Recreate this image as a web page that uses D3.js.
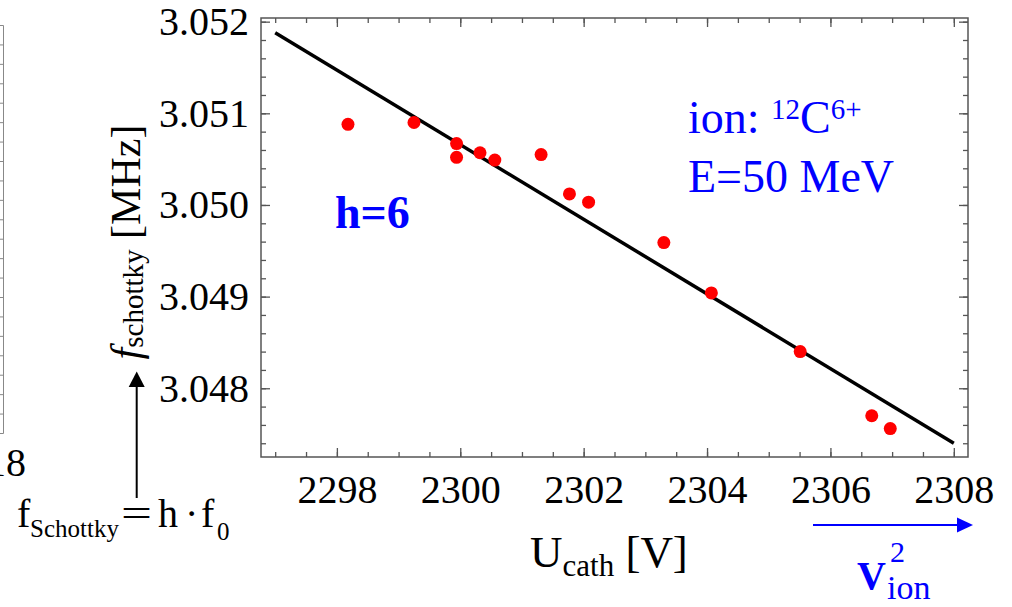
<!DOCTYPE html>
<html>
<head>
<meta charset="utf-8">
<style>
  body { margin: 0; background: white; }
  svg { display: block; font-family: 'Liberation Serif', 'Times New Roman', serif; }
  .frame line { stroke: #555; stroke-width: 1.3; }
</style>
</head>
<body>
<svg width="1012" height="607"></svg>
<script src="https://d3js.org/d3.v7.min.js"></script>
<script>
// measured points: cathode voltage [V] and Schottky frequency [MHz]
let uCath = [2298.18, 2299.25, 2299.94, 2299.94, 2300.32, 2300.56, 2301.31, 2301.77, 2302.08, 2303.30, 2304.07, 2305.51, 2306.67, 2306.97]
let fSchottky = [3.05088, 3.05090, 3.05067, 3.05052, 3.05057, 3.05049, 3.05055, 3.05012, 3.05003, 3.04959, 3.04904, 3.04840, 3.04770, 3.04756]

// linear fit, end points
let fitU = [2297, 2308]
let fitF = [3.05188, 3.04740]

let xTicks = [2298, 2300, 2302, 2304, 2306, 2308]
let yTicks = [3.048, 3.049, 3.050, 3.051, 3.052]

let serif = "'Liberation Serif', 'Times New Roman', serif"
let svg = d3.select("svg")

let x = d3.scaleLinear().domain([2296.77, 2308.23]).range([261, 968])
let y = d3.scaleLinear().domain([3.04725, 3.05204]).range([457, 18])

let xMinor = d3.range(0, 23).map(i => 2297 + i * 0.5)
let yMinor = d3.range(0, 24).map(i => 3.0474 + i * 0.0002)

// ticks on all four sides (pointing inwards)
function ticks(axis, pos, values, size) {
    svg.append("g").attr("class", "frame").attr("transform", pos)
        .call(axis.tickValues(values).tickSize(-size).tickFormat(""))
        .call(g => g.select(".domain").remove())
}
ticks(d3.axisBottom(x), "translate(0,457)", xMinor, 5)
ticks(d3.axisTop(x), "translate(0,18)", xMinor, 5)
ticks(d3.axisLeft(y), "translate(261,0)", yMinor, 5)
ticks(d3.axisRight(y), "translate(968,0)", yMinor, 5)
ticks(d3.axisTop(x), "translate(0,18)", xTicks, 9)
ticks(d3.axisRight(y), "translate(968,0)", yTicks, 9)

// major ticks with labels
let xAxis = svg.append("g").attr("class", "frame").attr("transform", "translate(0,457)")
    .call(d3.axisBottom(x).tickValues(xTicks).tickSize(-9).tickPadding(18).tickFormat(d3.format("d")))
xAxis.select(".domain").remove()
xAxis.attr("font-size", 40).attr("font-family", serif)
xAxis.selectAll("text").attr("fill", "black")

let yAxis = svg.append("g").attr("class", "frame").attr("transform", "translate(261,0)")
    .call(d3.axisLeft(y).tickValues(yTicks).tickSize(-9).tickPadding(12).tickFormat(d3.format(".3f")))
yAxis.select(".domain").remove()
yAxis.attr("font-size", 40).attr("font-family", serif)
yAxis.selectAll("text").attr("fill", "black")

svg.append("rect")
    .attr("x", x.range()[0]).attr("y", y.range()[1])
    .attr("width", x.range()[1] - x.range()[0])
    .attr("height", y.range()[0] - y.range()[1])
    .attr("fill", "none").attr("stroke", "#555").attr("stroke-width", 1.5)

// fit line
svg.append("path")
    .datum(fitU.map((u, i) => [u, fitF[i]]))
    .attr("d", d3.line().x(d => x(d[0])).y(d => y(d[1])))
    .attr("stroke", "black").attr("stroke-width", 3.5).attr("fill", "none")

// data points
svg.append("g").selectAll("circle")
    .data(uCath.map((u, i) => [u, fSchottky[i]]))
    .join("circle")
    .attr("cx", d => x(d[0])).attr("cy", d => y(d[1]))
    .attr("r", 6.5).attr("fill", "#ff0000")

// axis titles
let xt = svg.append("text").attr("x", 530).attr("y", 567).attr("font-size", 45)
xt.append("tspan").text("U")
xt.append("tspan").attr("font-size", 31).attr("dy", 9).text("cath")
xt.append("tspan").attr("dy", -9).text(" [V]")

let yt = svg.append("text").attr("transform", "translate(140,242) rotate(-90)")
    .attr("text-anchor", "middle").attr("font-size", 42)
yt.append("tspan").attr("font-style", "italic").text("f")
yt.append("tspan").attr("font-size", 29).attr("dy", 3).text("schottky")
yt.append("tspan").attr("dy", -3).text(" [MHz]")

// annotations
svg.append("text").attr("x", 335).attr("y", 228).attr("font-size", 46)
    .attr("font-weight", "bold").attr("fill", "#0000ff").text("h=6")

let ion = svg.append("text").attr("x", 688).attr("y", 133).attr("font-size", 46).attr("fill", "#0000ff")
ion.append("tspan").text("ion: ")
ion.append("tspan").attr("font-size", 29).attr("dy", -14).text("12")
ion.append("tspan").attr("dy", 14).text("C")
ion.append("tspan").attr("font-size", 29).attr("dy", -14).text("6+")
svg.append("text").attr("x", 688).attr("y", 192).attr("font-size", 46).attr("fill", "#0000ff").text("E=50 MeV")

// f_Schottky = h * f0 with arrow
svg.append("text").attr("x", 17).attr("y", 527).attr("font-size", 40).text("f")
svg.append("text").attr("x", 30).attr("y", 537).attr("font-size", 25).text("Schottky")
svg.append("text").attr("x", 121).attr("y", 527).attr("font-size", 40)
    .attr("textLength", 31).attr("lengthAdjust", "spacingAndGlyphs").text("=")
svg.append("text").attr("x", 158).attr("y", 527).attr("font-size", 40).text("h")
svg.append("text").attr("x", 185).attr("y", 527).attr("font-size", 40).text("·")
svg.append("text").attr("x", 201).attr("y", 527).attr("font-size", 40).text("f")
svg.append("text").attr("x", 217).attr("y", 540).attr("font-size", 25).text("0")

svg.append("line").attr("x1", 136.7).attr("x2", 136.7).attr("y1", 498).attr("y2", 385)
    .attr("stroke", "black").attr("stroke-width", 2)
svg.append("path").attr("d", "M136.7,371.5 L128.7,387 L144.7,387 Z").attr("fill", "black")

// v_ion^2 arrow
svg.append("line").attr("x1", 813).attr("x2", 959).attr("y1", 525).attr("y2", 525)
    .attr("stroke", "#0000ff").attr("stroke-width", 2)
svg.append("path").attr("d", "M973,525 L957,517.5 L957,532.5 Z").attr("fill", "#0000ff")
svg.append("text").attr("x", 857).attr("y", 589).attr("font-size", 40).attr("font-weight", "bold")
    .attr("fill", "#0000ff").text("V")
svg.append("text").attr("x", 890).attr("y", 562).attr("font-size", 30).attr("fill", "#0000ff").text("2")
svg.append("text").attr("x", 887).attr("y", 599).attr("font-size", 34).attr("fill", "#0000ff").text("ion")

// edge of neighbouring panel at the left
let yn = d3.scaleLinear().domain([0, 21]).range([433, 25])
let nb = svg.append("g").attr("transform", "translate(3,0)")
    .call(d3.axisLeft(yn).tickValues(d3.range(0, 22)).tickSize(5).tickFormat(""))
nb.selectAll("line, path").attr("stroke", "#888")
svg.append("text").attr("x", 26).attr("y", 476).attr("text-anchor", "end").attr("font-size", 40).text("18")
</script>
</body>
</html>
